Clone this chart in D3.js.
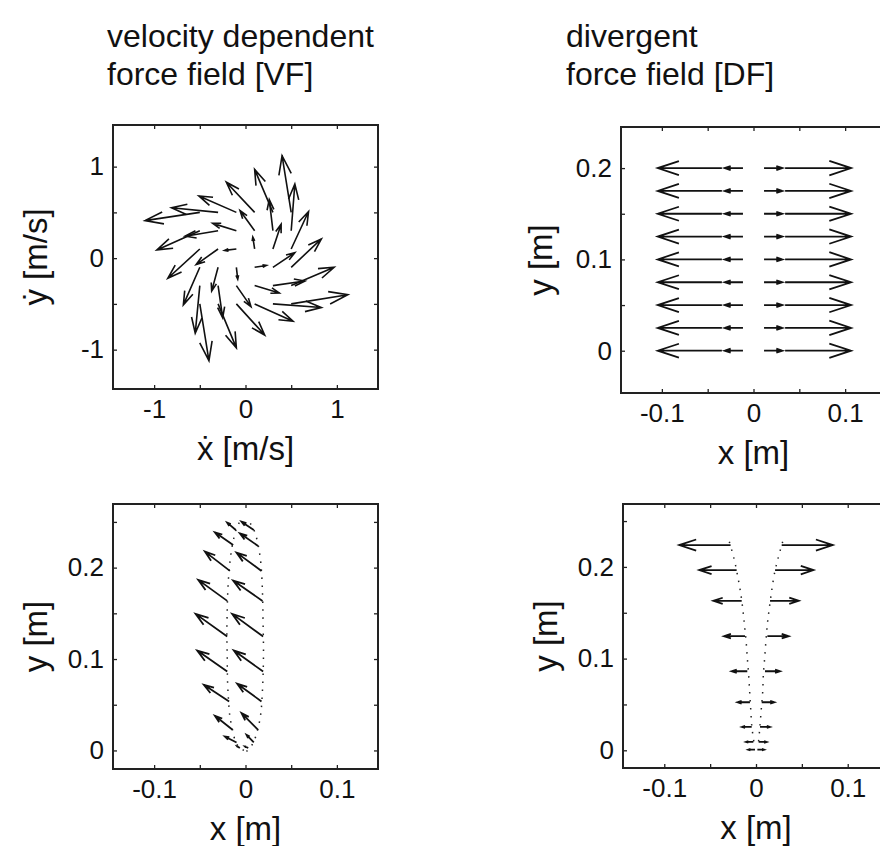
<!DOCTYPE html>
<html><head><meta charset="utf-8">
<script src="https://cdn.jsdelivr.net/npm/d3@7"></script>
<style>body{margin:0;background:#fff}svg{display:block}</style>
</head><body>
<svg id="chart" width="880" height="846"></svg>
<script>
// ---------- DATA ----------
// Top-left: velocity dependent force field, arrows at velocity grid points
const vfVx = [-0.5,-0.3,-0.1,0.1,0.3,0.5, -0.5,-0.3,-0.1,0.1,0.3,0.5, -0.5,-0.3,-0.1,0.1,0.3,0.5,
              -0.5,-0.3,-0.1,0.1,0.3,0.5, -0.5,-0.3,-0.1,0.1,0.3,0.5, -0.5,-0.3,-0.1,0.1,0.3,0.5];
const vfVy = [0.5,0.5,0.5,0.5,0.5,0.5, 0.3,0.3,0.3,0.3,0.3,0.3, 0.1,0.1,0.1,0.1,0.1,0.1,
              -0.1,-0.1,-0.1,-0.1,-0.1,-0.1, -0.3,-0.3,-0.3,-0.3,-0.3,-0.3, -0.5,-0.5,-0.5,-0.5,-0.5,-0.5];
const vfFx = [-0.60,-0.51,-0.41,-0.31,-0.20,-0.10, -0.47,-0.36,-0.26,-0.16,-0.04,0.04,
              -0.35,-0.24,-0.13,-0.02,0.09,0.19, -0.18,-0.07,0.015,0.13,0.24,0.33,
              -0.05,0.05,0.16,0.27,0.35,0.47, 0.10,0.20,0.31,0.42,0.53,0.62];
const vfFy = [-0.09,0.05,0.18,0.33,0.47,0.62, -0.21,-0.06,0.08,0.22,0.34,0.51,
              -0.32,-0.17,-0.015,0.13,0.27,0.41, -0.41,-0.26,-0.13,0.02,0.16,0.31,
              -0.52,-0.35,-0.23,-0.08,0.05,0.20, -0.62,-0.48,-0.34,-0.19,-0.04,0.10];

// Top-right: divergent force field
const dfRowY = [0,0.025,0.05,0.075,0.1,0.125,0.15,0.175,0.2];
const dfColX = [-0.0345,-0.0115,0.0115,0.0345];
const dfColF = [-0.070,-0.020,0.020,0.072];

// Bottom-left: hand paths in VF (dotted) and force arrows
const vfPathLX = [-0.0018,-0.0069,-0.0106,-0.0142,-0.0171,-0.0186,-0.0197,-0.0200,-0.0204,-0.0200,-0.0193,-0.0179,-0.0153,-0.0124,-0.0091,-0.0055];
const vfPathLY = [0,0.0036,0.0087,0.0226,0.0372,0.0554,0.0772,0.1027,0.1282,0.1537,0.1756,0.1974,0.2193,0.2339,0.2448,0.2514];
const vfPathRX = [0.0011,0.0066,0.0106,0.0142,0.0168,0.0182,0.0193,0.0197,0.0193,0.0189,0.0182,0.0168,0.0142,0.0106,0.0066,0.0011];
const vfPathRY = [-0.0011,0.0051,0.0135,0.0262,0.0408,0.0590,0.0845,0.1100,0.1355,0.1610,0.1829,0.2047,0.2230,0.2375,0.2466,0.2521];
const vfArrX = [-0.0106,-0.0135,-0.0171,-0.0200,-0.0200,-0.0200,-0.0179,-0.0142,-0.0098,-0.0062,
                 0.0091,0.0138,0.0175,0.0186,0.0193,0.0193,0.0175,0.0138,0.0091,0.0030];
const vfArrY = [0.2412,0.2248,0.1964,0.1636,0.1246,0.0863,0.0536,0.0226,0.0087,0.0026,
                0.2412,0.2237,0.1964,0.1636,0.1246,0.0863,0.0536,0.0226,0.0087,0.0026];
const vfArrU = [-0.0095,-0.0200,-0.0273,-0.0317,-0.0346,-0.0328,-0.0277,-0.0193,-0.0128,-0.0030,
                -0.0135,-0.0200,-0.0273,-0.0321,-0.0339,-0.0321,-0.0266,-0.0182,-0.0080,-0.0036];
const vfArrV = [0.0080,0.0138,0.0211,0.0230,0.0248,0.0230,0.0182,0.0153,0.0066,0.0020,
                0.0091,0.0138,0.0200,0.0222,0.0248,0.0230,0.0193,0.0182,0.0084,0.0018];

// Bottom-right: hand paths in DF (dotted) and force arrows
const dfPathLX = [-0.0291,-0.0240,-0.0204,-0.0171,-0.0146,-0.0127,-0.0109,-0.0095,-0.0080,-0.0069,-0.0058,-0.0047,-0.0036,-0.0015];
const dfPathLY = [0.2274,0.2092,0.1921,0.1739,0.1558,0.1376,0.1201,0.1012,0.0819,0.0637,0.0455,0.0273,0.0182,0.0036];
const dfPathRX = [0.0291,0.0240,0.0200,0.0171,0.0146,0.0124,0.0109,0.0095,0.0080,0.0073,0.0058,0.0044,0.0036,0.0022];
const dfPathRY = [0.2274,0.2092,0.1921,0.1739,0.1558,0.1376,0.1201,0.1012,0.0819,0.0637,0.0455,0.0273,0.0182,0.0036];
const dfArrY  = [0.2238,0.1965,0.1630,0.1245,0.0862,0.0524,0.0255,0.0091,0.0007];
const dfArrLX = [-0.0277,-0.0211,-0.0156,-0.0120,-0.0095,-0.0066,-0.0047,-0.0029,-0.0011];
const dfArrLU = [-0.0560,-0.0408,-0.0309,-0.0229,-0.0171,-0.0135,-0.0106,-0.0080,-0.0073];
const dfArrRX = [0.0280,0.0208,0.0153,0.0124,0.0098,0.0062,0.0044,0.0029,0.0015];
const dfArrRU = [0.0557,0.0418,0.0313,0.0233,0.0164,0.0138,0.0109,0.0087,0.0073];

// Axis ticks / labels
const vfTicks = [-1,-0.5,0,0.5,1], vfLabels = [-1,0,1];
const posXTicks = [-0.1,-0.05,0,0.05,0.1], posXLabels = [-0.1,0,0.1];
const posYTicksTop = [0,0.05,0.1,0.15,0.2], posYTicksBot = [0,0.05,0.1,0.15,0.2,0.25], posYLabels = [0,0.1,0.2];

const titles = [["velocity dependent","force field [VF]"],["divergent","force field [DF]"]];

// ---------- LAYOUT ----------
const svg = d3.select("#chart");
const FONT_T = "'Liberation Sans',Arial,sans-serif";
const FONT_TITLE = "'Liberation Sans',Arial,sans-serif";

const panels = [
  {key:"vf", x0:113, x1:378, y0:125, y1:389, xd:[-1.45,1.45], yd:[-1.43,1.455],
   xt:vfTicks, xl:vfLabels, yt:vfTicks, yl:vfLabels, xlab:"ẋ [m/s]", ylab:"ẏ [m/s]", ylx:35},
  {key:"df", x0:621, x1:886, y0:127, y1:393, xd:[-0.1446,0.1446], yd:[-0.0463,0.245],
   xt:posXTicks, xl:posXLabels, yt:posYTicksTop, yl:posYLabels, xlab:"x [m]", ylab:"y [m]", ylx:540},
  {key:"vfp", x0:113, x1:378, y0:504, y1:769, xd:[-0.145,0.145], yd:[-0.0203,0.2696],
   xt:posXTicks, xl:posXLabels, yt:posYTicksBot, yl:posYLabels, xlab:"x [m]", ylab:"y [m]", ylx:35},
  {key:"dfp", x0:623, x1:889, y0:504, y1:768, xd:[-0.145,0.145], yd:[-0.0193,0.2686],
   xt:posXTicks, xl:posXLabels, yt:posYTicksBot, yl:posYLabels, xlab:"x [m]", ylab:"y [m]", ylx:545}
];

const fmt = d => String(d);

function quiver(g, sx, sy, xs, ys, us, vs, w) {
  const alpha = 0.33, beta = 0.33;
  xs.forEach((x, i) => {
    const px = sx(x), py = sy(ys[i]);
    const u = sx(x + us[i]) - px, v = sy(ys[i] + vs[i]) - py;
    const tx = px + u, ty = py + v;
    const h1x = tx - alpha * (u + beta * v), h1y = ty - alpha * (v - beta * u);
    const h2x = tx - alpha * (u - beta * v), h2y = ty - alpha * (v + beta * u);
    g.append("path")
      .attr("d", `M${px},${py}L${tx},${ty}M${h1x},${h1y}L${tx},${ty}L${h2x},${h2y}`)
      .attr("fill", "none").attr("stroke", "#111").attr("stroke-width", w || 1.6)
      .attr("stroke-linejoin", "miter").attr("stroke-linecap", "butt");
  });
}

function dotted(g, sx, sy, xs, ys) {
  const line = d3.line().x((d, i) => sx(xs[i])).y((d, i) => sy(ys[i])).curve(d3.curveCatmullRom);
  g.append("path").attr("d", line(xs)).attr("fill", "none").attr("stroke", "#222")
    .attr("stroke-width", 1.5).attr("stroke-dasharray", "1.5 6.5");
}

panels.forEach(p => {
  const sx = d3.scaleLinear().domain(p.xd).range([p.x0, p.x1]);
  const sy = d3.scaleLinear().domain(p.yd).range([p.y1, p.y0]);
  p.sx = sx; p.sy = sy;
  const g = svg.append("g");
  const tk = 4;
  const ab = g.append("g").attr("transform", `translate(0,${p.y1})`)
    .call(d3.axisBottom(sx).tickValues(p.xt).tickSizeInner(-tk).tickSizeOuter(0).tickPadding(11)
      .tickFormat(d => p.xl.includes(d) ? fmt(d) : ""));
  const at = g.append("g").attr("transform", `translate(0,${p.y0})`)
    .call(d3.axisTop(sx).tickValues(p.xt).tickSizeInner(-tk).tickSizeOuter(0).tickFormat(""));
  const al = g.append("g").attr("transform", `translate(${p.x0},0)`)
    .call(d3.axisLeft(sy).tickValues(p.yt).tickSizeInner(-tk).tickSizeOuter(0).tickPadding(9)
      .tickFormat(d => p.yl.includes(d) ? fmt(d) : ""));
  const ar = g.append("g").attr("transform", `translate(${p.x1},0)`)
    .call(d3.axisRight(sy).tickValues(p.yt).tickSizeInner(-tk).tickSizeOuter(0).tickFormat(""));
  [ab, at, al, ar].forEach(a => {
    a.select(".domain").remove();
    a.selectAll("line").attr("stroke", "#222").attr("stroke-width", 1.3);
    a.selectAll("text").attr("font-family", FONT_T).attr("font-size", 26).attr("fill", "#111");
  });
  g.append("rect").attr("x", p.x0).attr("y", p.y0).attr("width", p.x1 - p.x0).attr("height", p.y1 - p.y0)
    .attr("fill", "none").attr("stroke", "#222").attr("stroke-width", 2);
  g.append("text").attr("x", sx(0)).attr("y", p.y1 + 71)
    .attr("text-anchor", "middle").attr("font-family", FONT_T).attr("font-size", 33).attr("fill", "#111")
    .text(p.xlab);
  g.append("text").attr("transform", `translate(${p.ylx},${(p.y0 + p.y1) / 2}) rotate(-90)`)
    .attr("dy", "0.35em").attr("text-anchor", "middle").attr("font-family", FONT_T)
    .attr("font-size", 33).attr("fill", "#111").text(p.ylab);
  p.g = g;
});

const P = Object.fromEntries(panels.map(p => [p.key, p]));
quiver(P.vf.g, P.vf.sx, P.vf.sy, vfVx, vfVy, vfFx, vfFy, 1.6);

const dfX = [], dfY = [], dfU = [], dfV = [];
dfRowY.forEach(y => dfColX.forEach((x, j) => { dfX.push(x); dfY.push(y); dfU.push(dfColF[j]); dfV.push(0); }));
quiver(P.df.g, P.df.sx, P.df.sy, dfX, dfY, dfU, dfV, 1.8);

dotted(P.vfp.g, P.vfp.sx, P.vfp.sy, vfPathLX, vfPathLY);
dotted(P.vfp.g, P.vfp.sx, P.vfp.sy, vfPathRX, vfPathRY);
quiver(P.vfp.g, P.vfp.sx, P.vfp.sy, vfArrX, vfArrY, vfArrU, vfArrV, 1.8);

dotted(P.dfp.g, P.dfp.sx, P.dfp.sy, dfPathLX, dfPathLY);
dotted(P.dfp.g, P.dfp.sx, P.dfp.sy, dfPathRX, dfPathRY);
quiver(P.dfp.g, P.dfp.sx, P.dfp.sy, dfArrLX, dfArrY, dfArrLU, dfArrY.map(() => 0), 1.8);
quiver(P.dfp.g, P.dfp.sx, P.dfp.sy, dfArrRX, dfArrY, dfArrRU, dfArrY.map(() => 0), 1.8);

// two-line titles
[[107, titles[0]], [566, titles[1]]].forEach(([x, lines]) => {
  lines.forEach((s, i) => {
    svg.append("text").attr("x", x).attr("y", 47 + i * 38)
      .attr("font-family", FONT_TITLE).attr("font-size", 32).attr("fill", "#111")
      .text(s);
  });
});
</script>
</body></html>
